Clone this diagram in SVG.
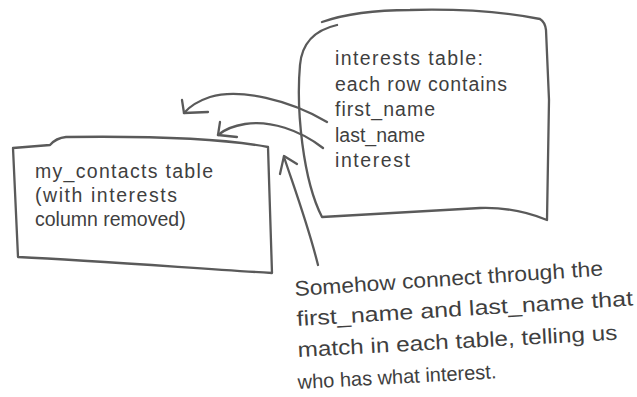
<svg xmlns="http://www.w3.org/2000/svg" width="637" height="397" viewBox="0 0 637 397">
<style>
.box{fill:#fff;stroke:#5a5a5a;stroke-width:2.3;stroke-linejoin:round;stroke-linecap:round}
.ln{fill:none;stroke:#5a5a5a;stroke-width:2.3;stroke-linecap:round;stroke-linejoin:round}
.t{font-family:"Liberation Sans","DejaVu Sans",sans-serif;font-size:19.5px;fill:#3f3f3f}
.c{font-family:"Liberation Sans","DejaVu Sans",sans-serif;font-size:21px;fill:#3f3f3f}
</style>
<rect width="637" height="397" fill="#fff"/>
<g id="interests">
<path class="box" d="M337,25 C315,30 302,42 300,65 C296,110 303,180 322,217 L480,208 C510,207 530,213 547,220 L549,100 L546,30 Q545,22 540,19 C500,11 450,9 410,10 C370,10 345,14 322,22"/>
<text class="t" x="335" y="65" textLength="148" lengthAdjust="spacing">interests table:</text>
<text class="t" x="335" y="91" textLength="172" lengthAdjust="spacing">each row contains</text>
<text class="t" x="335" y="116" textLength="100" lengthAdjust="spacing">first_name</text>
<text class="t" x="335" y="142" textLength="90" lengthAdjust="spacing">last_name</text>
<text class="t" x="335" y="167" textLength="75" lengthAdjust="spacing">interest</text>
</g>
<g id="my_contacts">
<path class="box" d="M13,148 L50,145 Q56,138 66,137 C140,136 220,138 268,147 L272,273 C190,268 100,261 18,257 Z"/>
<text class="t" x="35" y="178" textLength="178" lengthAdjust="spacing">my_contacts table</text>
<text class="t" x="35" y="202" textLength="142" lengthAdjust="spacing">(with interests</text>
<text class="t" x="35" y="226">column removed)</text>
</g>
<g id="connectors">
<path class="ln" d="M327,122 C290,100 240,88 210,97 C198,101 190,106 184,113"/>
<path class="ln" d="M182,100 L184,113 L208,112"/>
<path class="ln" d="M323,148 C300,130 270,120 245,124 C232,126 224,130 218,135"/>
<path class="ln" d="M220,122 L218,135 L237,137"/>
<path class="ln" d="M318,265 C308,225 295,190 284,157"/>
<path class="ln" d="M280,174 L284,156 L297,164"/>
</g>
<g id="note">
<text class="c" x="295" y="296" transform="rotate(-3.8 295 296)" textLength="309" lengthAdjust="spacingAndGlyphs">Somehow connect through the</text>
<text class="c" x="297" y="326" transform="rotate(-3.5 297 326)" textLength="337" lengthAdjust="spacingAndGlyphs">first_name and last_name that</text>
<text class="c" x="298" y="357" transform="rotate(-3.1 298 357)" textLength="320" lengthAdjust="spacingAndGlyphs">match in each table, telling us</text>
<text class="c" x="298" y="389" transform="rotate(-3.1 298 389)" style="font-size:20px">who has what interest.</text>
</g>
</svg>
